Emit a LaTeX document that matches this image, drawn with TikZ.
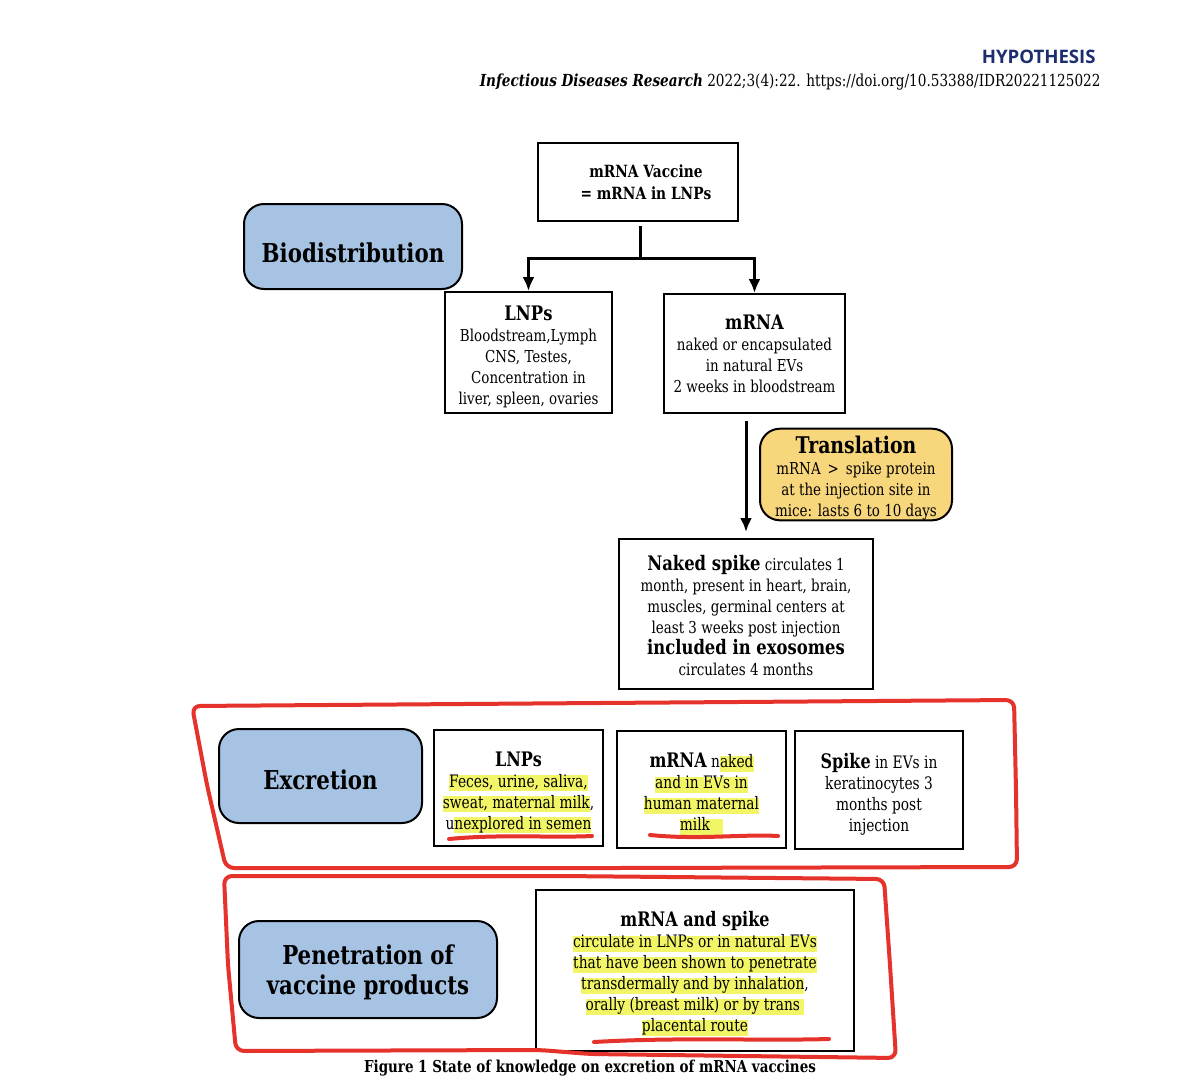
\documentclass[tikz,border=0pt]{standalone}
\usepackage{fontspec}
\setmainfont{DejaVu Serif}[FakeStretch=0.82]
\newfontfamily\narrowfont{DejaVu Serif}[FakeStretch=0.8]
\newfontfamily\hdfont{Open Sans}
\usetikzlibrary{arrows.meta}
\definecolor{boxblue}{HTML}{A6C3E4}
\definecolor{boxyellow}{HTML}{F7D67C}
\definecolor{hly}{HTML}{F2F566}
\definecolor{penred}{HTML}{E5322B}
\definecolor{hdblue}{HTML}{1D2E6E}
\newsavebox\hlsave
\newcommand\hlmark[1]{\sbox\hlsave{#1}\rlap{\textcolor{hly}{\rule[-2pt]{\wd\hlsave}{7.8pt}}}\usebox\hlsave}
\newcommand\lift[1]{\rule{0pt}{#1}}
\newcommand\bodyfs{\fontsize{8.2}{10.5}\selectfont}
\newcommand\narrowfs{\narrowfont\fontsize{8.6}{10.5}\selectfont}
\newcommand\titlefs{\fontsize{10}{12}\selectfont\bfseries}
\tikzset{
  plainbox/.style={draw=black, line width=1pt, fill=white, align=center, inner sep=0pt},
  catbox/.style={draw=black, line width=1pt, fill=boxblue, rounded corners=10pt, align=center,
    inner sep=0pt, font=\fontsize{13}{15}\selectfont\bfseries},
  transbox/.style={draw=black, line width=1pt, fill=boxyellow, rounded corners=10pt, align=center, inner sep=0pt},
  flow/.style={line width=1.5pt, -{Latex[length=7pt,width=6pt]}},
  redpen/.style={penred, line width=2pt, line cap=round, line join=round},
}
\begin{document}
\begin{tikzpicture}[x=0.5pt,y=-0.5pt]
\useasboundingbox (0,0) rectangle (1200,1086);
\fill[white] (0,0) rectangle (1200,1086);

% header
\node[anchor=east, inner sep=0pt, text=hdblue, font=\hdfont\bfseries\fontsize{9.3}{11}\selectfont] (hyp) at (1096,57) {HYPOTHESIS};
\node[anchor=east, inner sep=0pt, font=\fontsize{8.3}{10}\selectfont] (jr) at (1101,82)
  {\textbf{\textit{Infectious Diseases Research}} 2022;3(4):22. https://doi.org/10.53388/IDR20221125022};

% biodistribution part
\node[plainbox, minimum width=100pt, minimum height=39pt, font=\fontsize{8.4}{11}\selectfont\bfseries] (vac) at (638,182)
  {\hspace*{8pt}mRNA Vaccine\\\hspace*{8pt}= mRNA in LNPs};
\node[catbox, minimum width=109pt, minimum height=42.5pt] (bio) at (353,246.5) {\lift{16pt}Biodistribution};
\node[plainbox, minimum width=83.5pt, minimum height=60.5pt, font=\bodyfs] (lnp) at (528.5,352.5)
  {{\titlefs\lift{11.5pt}LNPs}\\Bloodstream,Lymph\\CNS, Testes,\\Concentration in\\liver, spleen, ovaries};
\node[plainbox, minimum width=90.5pt, minimum height=59.5pt, font=\bodyfs] (mrna) at (754.5,353.5)
  {{\titlefs mRNA}\\naked or encapsulated\\in natural EVs\\2 weeks in bloodstream};
\node[transbox, minimum width=96pt, minimum height=45.5pt, font=\bodyfs] (trans) at (856,474.5)
  {{\fontsize{11.5}{12}\selectfont\bfseries\lift{12.5pt}Translation}\\mRNA~\,>~\,spike protein\\at the injection site in\\mice: lasts 6 to 10 days};
\node[plainbox, minimum width=127pt, minimum height=75pt, font=\bodyfs] (spike) at (746,614)
  {{\titlefs\lift{9.5pt}Naked spike} circulates 1\\month, present in heart, brain,\\muscles, germinal centers at\\least 3 weeks post injection\\{\titlefs included in exosomes}\\circulates 4 months};

\coordinate (j) at (640,258);
\draw[line width=1.5pt] ([yshift=-2pt]vac.south -| j) -- (j);
\draw[flow] (j) -| (lnp.north);
\draw[flow] (j) -| (mrna.north);
\draw[flow, shorten <=3.5pt, shorten >=3pt] (spike.north |- mrna.south) -- (spike.north);

% excretion part
\node[catbox, minimum width=101.5pt, minimum height=47pt] (exc) at (320.5,776) {\lift{14pt}Excretion};
\node[plainbox, minimum width=84.5pt, minimum height=58pt, font=\narrowfs] (elnp) at (518.5,788)
  {{\titlefs\lift{11.5pt}LNPs}\\\hlmark{Feces, urine, saliva,}\\\hlmark{sweat, maternal milk},\\u\hlmark{nexplored in semen}};
\node[plainbox, minimum width=84.5pt, minimum height=58.5pt, font=\narrowfs] (emrna) at (701.5,789.5)
  {{\titlefs\lift{11.5pt}mRNA} n\hlmark{aked}\\\hlmark{and in EVs in}\\\hlmark{human maternal}\\\hlmark{milk~~~}};
\node[plainbox, minimum width=84pt, minimum height=59pt, font=\narrowfs] (espike) at (879,790)
  {{\titlefs\lift{11.5pt}Spike} in EVs in\\keratinocytes 3\\months post\\injection};

% penetration part
\node[catbox, minimum width=129pt, minimum height=48.5pt] (pen) at (368,969.5) {\lift{13pt}Penetration of\\vaccine products};
\node[plainbox, minimum width=159pt, minimum height=80.5pt, font=\narrowfs] (pspike) at (695,970.5)
  {{\titlefs\lift{10.5pt}mRNA and spike}\\\hlmark{circulate in LNPs or in natural EVs}\\\hlmark{that have been shown to penetrate}\\\hlmark{transdermally and by inhalation},\\\hlmark{orally (breast milk) or by trans~}\\\hlmark{placental route}};

\node[inner sep=0pt, font=\fontsize{8.2}{9}\selectfont\bfseries] (cap) at (590,1068)
  {Figure 1 State of knowledge on excretion of mRNA vaccines};

% red hand-drawn marks
\draw[redpen, rounded corners=4pt] (192,706) -- (600,703) -- (1014,700) -- (1016,790) -- (1017,867)
  -- (620,868) -- (226,868) -- (207,785) -- cycle;
\draw[redpen, rounded corners=4pt] (224,876) -- (560,876) -- (884,879) -- (890,965) -- (896,1058)
  -- (590,1054) -- (540,1050) -- (236,1051) -- (228,965) -- cycle;
\draw[redpen] (449,839) .. controls (500,834) and (550,838) .. (592,836);
\draw[redpen] (650,835) .. controls (700,840) and (740,834) .. (778,836);
\draw[redpen] (594,1042) .. controls (680,1037) and (760,1041) .. (829,1039);
\end{tikzpicture}
\end{document}
